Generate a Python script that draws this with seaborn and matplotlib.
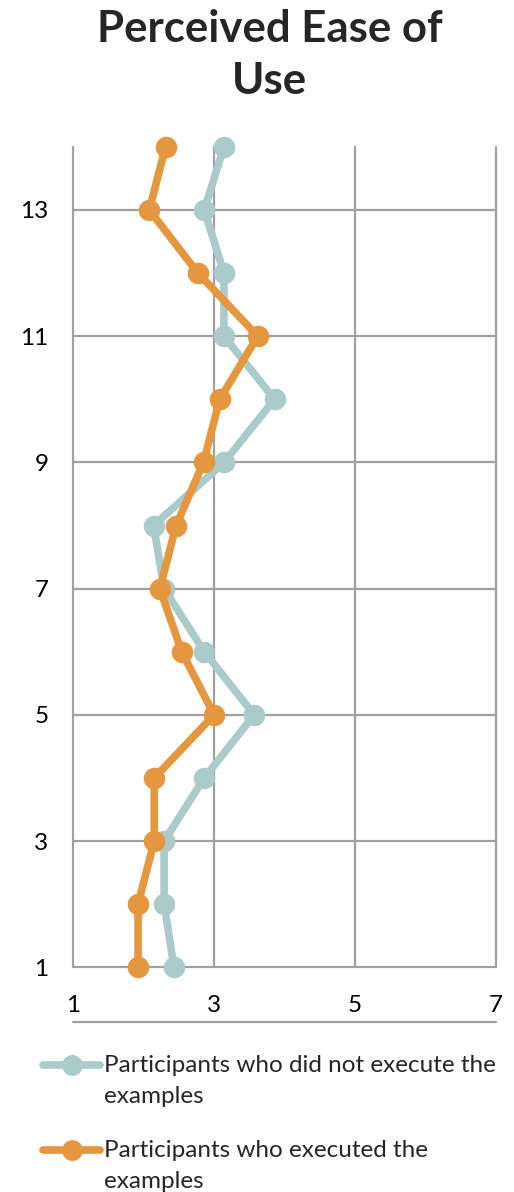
import numpy as np
import pandas as pd
import matplotlib
matplotlib.use("Agg")
import matplotlib.pyplot as plt
import seaborn as sns
from matplotlib.legend_handler import HandlerLine2D
from matplotlib.lines import Line2D

# ---- data ----
items = [1, 2, 3, 4, 5, 6, 7, 8, 9, 10, 11, 12, 13, 14]
not_executed = [2.43, 2.29, 2.29, 2.86, 3.57, 2.86, 2.29, 2.14, 3.14, 3.86, 3.14, 3.14, 2.86, 3.14]
executed = [1.92, 1.92, 2.15, 2.15, 3.00, 2.54, 2.23, 2.46, 2.85, 3.08, 3.62, 2.77, 2.08, 2.31]
series_names = ["Participants who did not execute the\nexamples",
                "Participants who executed the\nexamples"]
x_ticks = [1, 3, 5, 7]
y_ticks = [1, 3, 5, 7, 9, 11, 13]
title = "Perceived Ease of\nUse"

TEAL = "#ABCACA"
ORANGE = "#E4973F"
GRID = "#A0A0A0"

df = pd.DataFrame({
    "score": not_executed + executed,
    "item": items + items,
    "group": [series_names[0]] * len(items) + [series_names[1]] * len(items),
})

sns.set_theme(style="white")
plt.rcParams["font.family"] = ["Lato", "DejaVu Sans"]

fig = plt.figure(figsize=(5.14, 11.92), dpi=100)
ax = fig.add_axes([0.1426, 0.1885, 0.9644 - 0.1426, 0.8768 - 0.1885])

sns.lineplot(data=df, x="score", y="item", hue="group", orient="y",
             palette=[TEAL, ORANGE], marker="o", markersize=15.5,
             markeredgewidth=0, linewidth=5.5, legend=False, ax=ax,
             errorbar=None)
for ln in ax.lines:
    ln.set_clip_on(False)
    ln.set_zorder(5)

ax.set_xlim(1, 7)
ax.set_ylim(1, 14)
ax.set_xticks(x_ticks)
ax.set_yticks(y_ticks)
ax.set_xticklabels([str(v) for v in x_ticks])
ax.set_yticklabels([str(v) for v in y_ticks])
ax.set_xlabel("")
ax.set_ylabel("")
ax.tick_params(axis="both", length=0, labelsize=17.5, colors="black")
ax.tick_params(axis="y", pad=18)
ax.tick_params(axis="x", pad=20)
for s in ax.spines.values():
    s.set_visible(False)
ax.grid(True, color=GRID, linewidth=1.6)
ax.set_axisbelow(True)
for gl in ax.xaxis.get_gridlines() + ax.yaxis.get_gridlines():
    gl.set_clip_on(False)

# extra category-axis line beneath x tick labels
ax.plot([0, 1], [-0.0667, -0.0667], transform=ax.transAxes, color=GRID,
        linewidth=1.6, clip_on=False)

fig.text(0.524, 1 - 9 / 1192, title, ha="center", va="top", fontsize=31.5,
         fontweight="bold", linespacing=1.36)


class HandlerTop(HandlerLine2D):
    def create_artists(self, legend, orig_handle, xdescent, ydescent,
                       width, height, fontsize, trans):
        arts = super().create_artists(legend, orig_handle, xdescent, ydescent,
                                      width, height, fontsize, trans)
        off = 0.66 * fontsize
        for a in arts:
            a.set_ydata(np.asarray(a.get_ydata()) + off)
        return arts


handles = [Line2D([], [], color=TEAL, linewidth=5.5, marker="o", markersize=15,
                  markeredgewidth=0),
           Line2D([], [], color=ORANGE, linewidth=5.5, marker="o", markersize=15,
                  markeredgewidth=0)]
handler = HandlerTop(numpoints=1)
leg = fig.legend(handles, series_names, loc="upper left",
                 bbox_to_anchor=(43 / 514, 1 - 1055 / 1192), frameon=False,
                 fontsize=17.5, handlelength=2.35, handletextpad=0.17,
                 labelspacing=1.36, borderpad=0, borderaxespad=0,
                 handler_map={Line2D: handler})
for t in leg.get_texts():
    t.set_linespacing(1.6)

fig.savefig("out.png", dpi=100, facecolor="white")
